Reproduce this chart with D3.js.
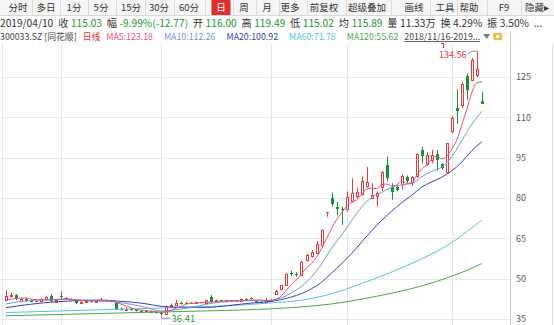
<!DOCTYPE html>
<html>
<head>
<meta charset="utf-8">
<script src="https://cdn.jsdelivr.net/npm/d3@7/dist/d3.min.js"></script>
<style>
body { margin: 0; background: #fff; }
svg text { font-family: "Noto Sans CJK SC", "Noto Sans", sans-serif; }
</style>
</head>
<body>
<script>
// trading days shown, 2018/11/16 - 2019/04/10
var dates = [
  "2018-11-16","2018-11-19","2018-11-20","2018-11-21","2018-11-22","2018-11-23","2018-11-26","2018-11-27","2018-11-28","2018-11-29","2018-11-30",
  "2018-12-03","2018-12-04","2018-12-05","2018-12-06","2018-12-07","2018-12-10","2018-12-11","2018-12-12","2018-12-13","2018-12-14",
  "2018-12-17","2018-12-18","2018-12-19","2018-12-20","2018-12-21","2018-12-24","2018-12-25","2018-12-26","2018-12-27","2018-12-28",
  "2019-01-02","2019-01-03","2019-01-04","2019-01-07","2019-01-08","2019-01-09","2019-01-10","2019-01-11","2019-01-14","2019-01-15",
  "2019-01-16","2019-01-17","2019-01-18","2019-01-21","2019-01-22","2019-01-23","2019-01-24","2019-01-25","2019-01-28","2019-01-29",
  "2019-01-30","2019-01-31","2019-02-01","2019-02-11","2019-02-12","2019-02-13","2019-02-14","2019-02-15","2019-02-18","2019-02-19",
  "2019-02-20","2019-02-21","2019-02-22","2019-02-25","2019-02-26","2019-02-27","2019-02-28","2019-03-01","2019-03-04","2019-03-05",
  "2019-03-06","2019-03-07","2019-03-08","2019-03-11","2019-03-12","2019-03-13","2019-03-14","2019-03-15","2019-03-18","2019-03-19",
  "2019-03-20","2019-03-21","2019-03-22","2019-03-25","2019-03-26","2019-03-27","2019-03-28","2019-03-29","2019-04-01","2019-04-02",
  "2019-04-03","2019-04-04","2019-04-08","2019-04-09","2019-04-10"
];

var open = [42.2,43.4,43.9,41.6,42.6,42.0,41.6,41.7,42.3,43.6,41.3,
  43.4,42.4,42.3,41.9,40.9,41.3,41.6,41.4,41.9,42.0,
  41.7,41.1,38.9,38.5,38.8,38.3,38.0,37.8,37.9,37.6,
  37.3,36.9,39.8,40.3,41.0,40.8,41.1,40.9,41.2,40.9,
  43.2,41.4,41.9,41.7,41.9,41.7,41.8,42.5,42.8,41.6,
  41.4,41.3,41.7,44.4,46.0,47.6,52.0,51.8,51.5,57.1,
  58.3,59.6,62.5,74.8,79.9,76.5,76.0,75.8,78.9,80.6,
  81.5,84.3,80.0,80.6,84.2,92.2,84.2,84.0,85.2,87.8,
  85.8,88.0,98.0,92.5,94.2,96.4,92.5,89.5,104.8,113.3,
  114.5,125.5,124.0,125.8,116.00];
var high = [45.8,44.8,44.2,43.0,42.9,42.3,42.0,42.7,43.5,44.3,42.3,
  45.2,43.2,42.6,42.1,41.6,41.9,41.9,42.0,42.8,42.2,
  41.9,41.3,39.3,39.4,39.0,38.6,38.3,38.2,38.1,37.8,
  37.5,40.1,40.7,42.1,41.5,41.4,41.3,41.5,41.4,42.2,
  43.9,42.2,42.2,42.1,42.1,42.0,42.5,42.8,43.1,41.6,
  41.6,42.9,42.4,45.8,47.8,52.1,52.9,52.4,56.6,59.2,
  60.6,64.0,68.3,74.8,82.0,78.5,76.8,82.4,87.3,83.8,
  88.0,91.5,85.5,82.5,90.0,95.4,85.5,84.5,88.8,88.4,
  88.2,96.7,99.1,97.0,97.9,97.9,93.0,100.3,110.2,120.5,
  123.0,126.4,132.0,134.56,119.49];
var low = [41.9,43.0,42.0,41.2,41.5,41.2,41.3,41.5,42.0,41.3,41.0,
  42.6,42.1,41.9,40.6,40.7,41.0,41.1,41.2,41.6,41.4,
  41.2,38.3,38.1,38.2,38.1,37.8,37.5,37.5,37.2,37.0,
  36.41,36.7,39.3,40.0,40.4,40.6,40.6,40.7,40.8,40.7,
  41.1,41.2,41.5,41.5,41.4,41.5,41.6,42.0,42.3,40.9,
  40.9,41.1,41.5,44.0,45.7,47.4,50.9,50.7,51.2,56.4,
  57.9,59.2,61.5,73.0,76.8,73.5,70.0,75.2,78.5,80.0,
  80.9,83.9,79.8,76.8,82.5,86.2,79.4,82.5,83.2,85.5,
  84.5,87.5,92.9,92.0,92.9,90.2,90.5,89.0,104.0,107.5,
  113.5,116.4,123.5,125.0,115.02];
var close = [43.6,44.0,42.3,42.6,41.8,41.5,41.8,42.4,43.2,41.6,42.0,
  43.0,42.9,42.2,40.8,41.3,41.6,41.4,41.8,42.0,41.7,
  41.5,38.7,38.6,38.9,38.3,38.0,37.8,37.9,37.4,37.3,
  36.8,39.8,40.3,40.9,40.8,41.1,40.9,41.2,41.0,41.9,
  41.4,41.9,41.7,41.9,41.7,41.8,42.3,42.3,42.6,41.5,
  41.1,41.7,42.2,45.5,47.5,51.9,51.6,51.5,56.3,58.7,
  60.0,63.0,68.0,74.8,77.6,76.0,75.6,80.4,82.0,82.3,
  86.5,86.0,81.0,81.7,89.7,87.5,82.4,83.1,88.3,86.2,
  87.7,96.5,95.5,96.0,96.0,94.2,91.2,100.3,109.8,112.2,
  122.3,120.2,131.5,127.8,115.03];

// moving averages: day index in the window -> value
var ma5Days = [0,2,4,5,7,10,12,14,16,19,21,22,23,24,25,26,28,30,31,32,33,34,35,36,38,41,44,47,50,52,53,54,55,56,57,58,59,60,61,62,63,64,65,66,67,68,69,70,71,72,73,74,75,76,77,78,79,80,81,82,83,84,85,86,87,88,89,90,91,92,93,94,95];
var ma5 = [42.0,42.6,42.86,42.44,42.02,42.2,42.54,42.18,41.76,41.62,41.68,41.14,40.5,39.88,39.2,38.5,38.18,37.68,37.44,37.84,38.32,39.02,39.72,40.58,40.98,41.28,41.76,41.88,42.1,41.84,41.82,42.4,43.6,45.76,47.74,49.6,51.76,54.0,55.62,57.9,61.2,64.9,68.68,71.9,74.4,76.9,78.32,79.3,81.36,83.4,83.56,83.5,84.98,85.2,84.46,84.9,86.2,85.5,85.54,88.4,90.84,92.4,94.34,95.6,94.58,95.5,98.3,101.54,107.16,112.96,119.2,122.8,123.18];
var ma10Days = [0,3,6,10,13,15,19,22,25,28,31,34,37,40,42,44,48,52,55,57,59,61,63,65,67,69,71,73,75,77,79,81,83,85,87,89,91,93,95];
var ma10 = [40.6,41.5,42.0,42.3,42.24,42.1,41.9,41.3,40.45,39.3,37.97,38.45,39.32,40.47,41.14,41.38,41.8,41.86,42.85,44.8,47.1,50.7,55.4,61.3,66.2,71.6,76.6,80.2,82.1,84.0,84.9,85.4,87.9,89.9,91.5,95.3,101.4,107.4,112.26];
var ma20Days = [0,5,10,15,19,22,25,28,31,34,37,40,44,48,52,55,57,59,61,63,65,67,69,71,73,75,77,79,81,83,85,87,89,91,93,95];
var ma20 = [39.2,40.5,41.4,41.85,42.05,41.7,41.3,40.65,39.7,39.4,39.4,39.3,39.9,40.75,41.4,42.2,43.2,44.45,46.25,48.65,52.1,55.5,59.35,63.65,67.8,71.7,75.1,78.25,81.0,84.05,86.0,87.75,90.1,93.4,97.65,100.92];
var ma60Days = [0,11,22,33,44,53,59,65,71,77,83,89,92,95];
var ma60 = [37.4,38.0,38.6,39.2,39.9,41.0,42.0,44.4,48.2,52.5,57.4,63.4,67.5,71.78];
var ma120Days = [0,11,22,33,44,53,59,65,71,77,83,89,92,95];
var ma120 = [36.2,36.7,37.2,37.7,38.2,38.8,39.5,40.6,42.4,44.6,47.3,50.9,53.1,55.62];

var yTicks = [125, 110, 95, 80, 65, 50, 35];

var tabs = ["分时","多日","1分","5分","15分","30分","60分","日","周","月","更多","前复权","超级叠加","画线","工具","帮助","F9","隐藏▸"];
var activeTab = "日";
var quoteDate = "2019/04/10";
var quoteLabels = ["收","幅","开","高","低","均","量","换","振"];
var quoteValues = ["115.03","-9.99%(-12.77)","116.00","119.49","115.02","115.89","11.33万","4.29%","3.50%"];
var quoteDown = [true,true,true,true,true,true,false,false,false];
var stockCode = "300033.SZ";
var stockName = "[同花顺]";
var periodName = "日线";
var rangeText = "2018/11/16-2019...";

var W = 554, H = 325;
var plotRight = 510;
var upColor = "#e8393f", downColor = "#17913a";
var maColors = { ma5: "#e4507a", ma10: "#6e9ad3", ma20: "#3444b0", ma60: "#55c3df", ma120: "#46a94c" };

var svg = d3.select("body").append("svg")
  .attr("width", W)
  .attr("height", H);

// scales
var x = d3.scaleBand().domain(dates).range([3.4, 3.4 + dates.length * 5.01]);
var y = d3.scaleLinear().domain([35, 125]).range([319, 77]);

function cx(i) { return Math.round(x(dates[i]) + x.bandwidth() / 2); }

// ---- toolbar ----
var tabCenters = [18, 46, 74, 101, 131, 159, 189, 221, 244, 267, 290, 324, 367, 414, 445, 469, 504, 537];
var bar = svg.append("g");
bar.append("rect").attr("width", W).attr("height", 15).attr("fill", "#f5f5f5");
bar.append("line").attr("x1", 0).attr("x2", W).attr("y1", 15.5).attr("y2", 15.5).attr("stroke", "#d8d8d8");
tabCenters.forEach(function(c, i) {
  if (i > 0) {
    var sx = Math.round((c + tabCenters[i - 1]) / 2) + 0.5;
    bar.append("line").attr("x1", sx).attr("x2", sx).attr("y1", 0).attr("y2", 15).attr("stroke", "#dcdcdc");
  }
  if (tabs[i] === activeTab) {
    bar.append("rect").attr("x", c - 9.5).attr("y", 0).attr("width", 19).attr("height", 15).attr("fill", "#e12d2d");
  }
  bar.append("text")
    .attr("x", c).attr("y", 11)
    .attr("text-anchor", "middle")
    .attr("font-size", 9.5)
    .attr("fill", tabs[i] === activeTab ? "#fff" : "#333")
    .text(tabs[i]);
});

// ---- quote row ----
function putText(g, txt, px, py, size, color) {
  var t = g.append("text").attr("x", px).attr("y", py).attr("font-size", size).attr("fill", color).text(txt);
  return t.node().getComputedTextLength();
}
var qrow = svg.append("g");
var qx = 0;
qx += putText(qrow, quoteDate, qx, 27, 10.2, "#333") + 5;
quoteLabels.forEach(function(l, i) {
  qx += putText(qrow, l, qx, 27, 10.2, "#333") + 2.5;
  qx += putText(qrow, quoteValues[i], qx, 27, 10.2, quoteDown[i] ? "#1a9a2a" : "#333") + 4.8;
});
putText(qrow, "...", qx, 27, 10.2, "#333");

// ---- legend row ----
var lrow = svg.append("g");
var lx = 0;
lx += putText(lrow, stockCode, lx, 39.5, 8.8, "#444") + 2;
lx += putText(lrow, stockName, lx, 39.5, 8.8, "#444") + 6;
lx += putText(lrow, periodName, lx, 39.5, 8.8, "#e12d2d") + 6;
[["MA5", ma5, maColors.ma5], ["MA10", ma10, maColors.ma10], ["MA20", ma20, maColors.ma20],
 ["MA60", ma60, maColors.ma60], ["MA120", ma120, maColors.ma120]].forEach(function(m) {
  lx += putText(lrow, m[0] + ":" + m[1][m[1].length - 1].toFixed(2), lx, 39.5, 8.8, m[2]) + 11;
});
lx -= 5;
var rw = putText(lrow, rangeText, lx, 39.5, 8.8, "#444");
lrow.append("line").attr("x1", lx).attr("x2", lx + rw).attr("y1", 41.5).attr("y2", 41.5).attr("stroke", "#666");
lx += rw + 3;
lrow.append("path").attr("d", "M" + lx + ",34 h7 l-3.5,5 z").attr("fill", "#777");
lrow.append("rect").attr("x", lx + 10).attr("y", 33).attr("width", 9).attr("height", 7).attr("rx", 1).attr("fill", "#f0c040");
lrow.append("rect").attr("x", lx + 13).attr("y", 35).attr("width", 3).attr("height", 3).attr("fill", "#fff");

// ---- grid ----
var grid = svg.append("g");
grid.selectAll("line.h").data(yTicks).enter().append("line")
  .attr("x1", 0).attr("x2", plotRight)
  .attr("y1", function(d) { return Math.round(y(d)) + 0.5; })
  .attr("y2", function(d) { return Math.round(y(d)) + 0.5; })
  .attr("stroke", "#e9e9e9");
var monthStarts = dates.map(function(d, i) { return i; }).filter(function(i) {
  return i > 0 && dates[i].slice(5, 7) !== dates[i - 1].slice(5, 7);
});
grid.selectAll("line.v").data(monthStarts).enter().append("line")
  .attr("x1", function(i) { return cx(i) + 0.5; })
  .attr("x2", function(i) { return cx(i) + 0.5; })
  .attr("y1", 44).attr("y2", H)
  .attr("stroke", "#e6e6e6");
svg.append("line").attr("x1", 2.5).attr("x2", 2.5).attr("y1", 44).attr("y2", H).attr("stroke", "#e6e6e6");

// right axis
var axis = svg.append("g")
  .attr("transform", "translate(" + plotRight + ",0)")
  .call(d3.axisRight(y).tickValues(yTicks).tickSize(0).tickPadding(6));
axis.select(".domain").remove();
axis.selectAll("text").attr("font-size", 9).attr("fill", "#555")
  .style("font-family", "'Noto Sans CJK SC', sans-serif");
svg.append("line").attr("x1", plotRight + 0.5).attr("x2", plotRight + 0.5).attr("y1", 31).attr("y2", H).attr("stroke", "#cfcfcf");
svg.append("line").attr("x1", W - 1.5).attr("x2", W - 1.5).attr("y1", 44).attr("y2", H).attr("stroke", "#dcdcdc");

// ---- candles ----
var plot = svg.append("g");
dates.forEach(function(d, i) {
  var c = cx(i);
  var up = close[i] >= open[i];
  var col = up ? upColor : downColor;
  plot.append("line")
    .attr("x1", c + 0.5).attr("x2", c + 0.5)
    .attr("y1", y(high[i])).attr("y2", y(low[i]))
    .attr("stroke", col);
  var top = Math.round(y(Math.max(open[i], close[i])));
  var bot = Math.round(y(Math.min(open[i], close[i])));
  if (up) {
    if (bot - top < 1) {
      plot.append("line").attr("x1", c - 1).attr("x2", c + 2).attr("y1", top + 0.5).attr("y2", top + 0.5).attr("stroke", col);
    } else {
      plot.append("rect").attr("x", c - 0.5).attr("y", top + 0.5)
        .attr("width", 2).attr("height", bot - top)
        .attr("fill", "#fff").attr("stroke", col);
    }
  } else {
    plot.append("rect").attr("x", c - 1).attr("y", top)
      .attr("width", 3).attr("height", Math.max(1, bot - top))
      .attr("fill", col);
  }
});

// ---- moving average lines ----
function maLine(days, vals, color) {
  var pts = days.map(function(dIdx, k) { return [x(dates[dIdx]) + x.bandwidth() / 2, y(vals[k])]; });
  svg.append("path")
    .attr("d", d3.line().curve(d3.curveMonotoneX)(pts))
    .attr("fill", "none")
    .attr("stroke", color)
    .attr("stroke-width", 1);
}
maLine(ma120Days, ma120, maColors.ma120);
maLine(ma60Days, ma60, maColors.ma60);
maLine(ma20Days, ma20, maColors.ma20);
maLine(ma10Days, ma10, maColors.ma10);
maLine(ma5Days, ma5, maColors.ma5);

// ---- high / low markers ----
var hi = d3.maxIndex(high), lo = d3.minIndex(low);
var hx = cx(hi) + 0.5, hy = y(high[hi]);
svg.append("path").attr("d", "M" + hx + "," + hy + " H" + (hx - 6) + " L" + (hx - 10) + "," + (hy + 2.5))
  .attr("fill", "none").attr("stroke", "#8090b0");
svg.append("text").attr("x", hx - 11).attr("y", hy + 7).attr("text-anchor", "end")
  .attr("font-size", 9).attr("fill", "#d83a3a").text(high[hi].toFixed(2));
svg.append("path").attr("d", "M443.5,43 v5 M441,43.5 h3").attr("stroke", "#e12d2d").attr("fill", "none");

var lx2 = cx(lo) + 0.5, ly = y(low[lo]);
svg.append("path").attr("d", "M" + lx2 + "," + ly + " V" + (ly + 3) + " H" + (lx2 + 9))
  .attr("fill", "none").attr("stroke", "#8090b0");
svg.append("text").attr("x", lx2 + 10).attr("y", ly + 6.5)
  .attr("font-size", 9.5).attr("fill", "#2a9a3a").text(low[lo].toFixed(2));
</script>
</body>
</html>
